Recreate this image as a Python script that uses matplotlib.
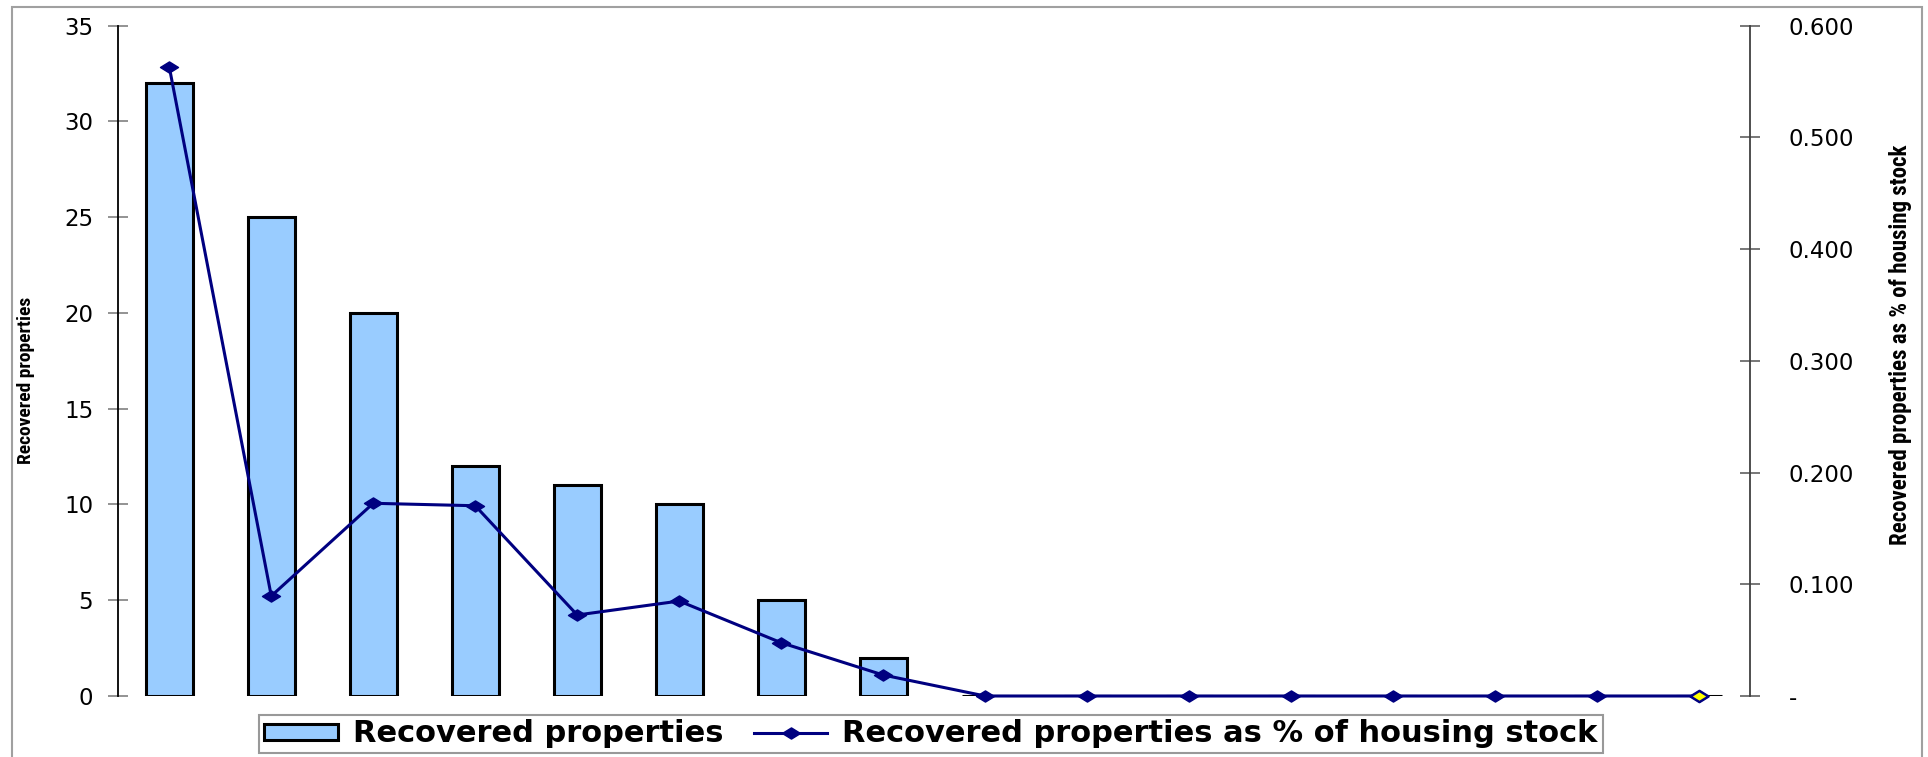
import matplotlib
matplotlib.use("Agg")
import matplotlib.pyplot as plt
from matplotlib import font_manager
from matplotlib.patches import Rectangle
from matplotlib.path import Path
import numpy as np

# ---- data ----
categories = list(range(1, 17))
recovered = [32, 25, 20, 12, 11, 10, 5, 2, 0, 0, 0, 0, 0, 0, 0, 0]
pct_stock = [0.563, 0.0895, 0.1725, 0.1703, 0.0725, 0.085, 0.0477, 0.0188,
             0, 0, 0, 0, 0, 0, 0, 0]
left_ticks = [0, 5, 10, 15, 20, 25, 30, 35]
right_ticks = [0, 0.1, 0.2, 0.3, 0.4, 0.5, 0.6]
right_labels = ["-", "0.100", "0.200", "0.300", "0.400", "0.500", "0.600"]
bar_label = "Recovered properties"
line_label = "Recovered properties as % of housing stock"

avail = {f.name for f in font_manager.fontManager.ttflist}
narrow = next((f for f in ["Liberation Sans Narrow", "DejaVu Sans Condensed",
                           "Roboto Condensed", "Open Sans Condensed", "Noto Sans"]
               if f in avail), "DejaVu Sans")
main_font = "DejaVu Sans"

W, H = 1928, 757
fig = plt.figure(figsize=(W / 100, H / 100), dpi=100)
ax = fig.add_axes([118.3 / W, 1 - 696 / H, (1750 - 118.3) / W, (696 - 25.7) / H])
ax2 = ax.twinx()

x = np.arange(len(categories))
ax.bar(x, recovered, width=0.46, color="#99CCFF", edgecolor="black",
       linewidth=2.2, zorder=2, label=bar_label)

diamond = Path([(-1, 0), (0, 0.62), (1, 0), (0, -0.62), (-1, 0)],
               [Path.MOVETO, Path.LINETO, Path.LINETO, Path.LINETO, Path.CLOSEPOLY])
line, = ax2.plot(x, pct_stock, color="#000080", linewidth=2.2, marker=diamond,
                 markersize=13, markerfacecolor="#000080", markeredgecolor="#000080",
                 label=line_label, zorder=3, clip_on=False)
ax2.plot(x[-1:], pct_stock[-1:], linestyle="none", marker=diamond, markersize=13,
         markerfacecolor="#FFFF00", markeredgecolor="#000080", markeredgewidth=1.8,
         zorder=4, clip_on=False)

ax.set_xlim(-0.5, len(categories) - 0.5)
ax.set_ylim(0, 35)
ax2.set_ylim(0, 0.6)
ax.set_xticks([])
ax.set_yticks(left_ticks)
ax.set_yticklabels([str(t) for t in left_ticks], fontsize=16.5, family=main_font)
ax2.set_yticks(right_ticks)
ax2.set_yticklabels(right_labels, fontsize=16.5, family=main_font)

for a in (ax, ax2):
    for s in ("top", "bottom"):
        a.spines[s].set_visible(False)
ax.spines["right"].set_visible(False)
ax2.spines["left"].set_visible(False)
ax.spines["left"].set_color("black")
ax.spines["left"].set_linewidth(1.3)
ax2.spines["right"].set_color("#404040")
ax2.spines["right"].set_linewidth(1.3)
ax.tick_params(axis="y", direction="inout", length=14, width=1.2, color="#808080", pad=11)
ax2.tick_params(axis="y", direction="inout", length=14, width=1.2, color="#606060", pad=21)

fig.text(26 / W, 1 - 380 / H, "Recovered properties", rotation=90, ha="center",
         va="center", family=narrow, fontweight="bold", fontsize=14)
fig.text(1901 / W, 1 - 345 / H, "Recovered properties as % of housing stock",
         rotation=90, ha="center", va="center", family=narrow, fontweight="bold",
         fontsize=16.5)

bars_handle = ax.containers[0]
leg = fig.legend([bars_handle, line], [bar_label, line_label], loc="center",
                 bbox_to_anchor=(931 / W, 1 - 734 / H), ncol=2, frameon=True,
                 fancybox=False, shadow=False,
                 prop={"family": main_font, "weight": "bold", "size": 22},
                 handlelength=2.4, handleheight=0.42, handletextpad=0.5, columnspacing=1.0,
                 borderpad=0.16, borderaxespad=0)
leg.get_frame().set_edgecolor("#808080")
leg.get_frame().set_linewidth(1.5)

fig.patches.append(Rectangle((12 / W, -0.01), (1922 - 12) / W, 1.01 - 7 / H,
                             transform=fig.transFigure, fill=False,
                             edgecolor="#A0A0A0", linewidth=1.5, zorder=0))

fig.savefig("out.png", dpi=100)
